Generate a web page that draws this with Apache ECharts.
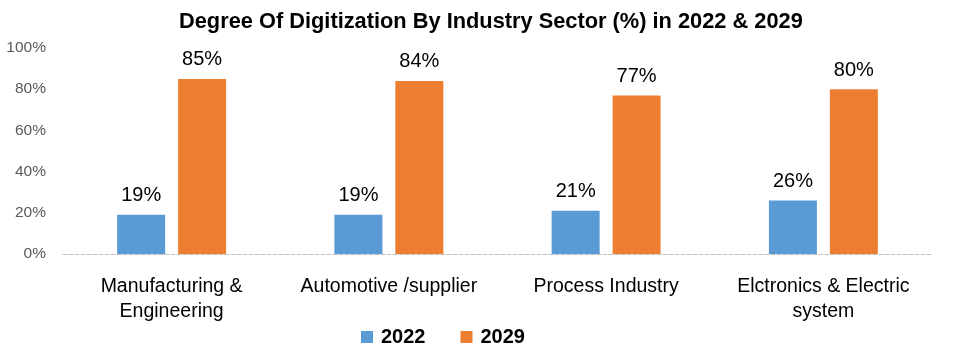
<!DOCTYPE html>
<html><head><meta charset="utf-8">
<script src="https://cdn.jsdelivr.net/npm/echarts@6/dist/echarts.min.js"></script>
<style>html,body{margin:0;padding:0;background:#fff}#c{width:955px;height:355px}</style>
</head><body><div id="c"></div>
<script>
const categories = ["Manufacturing &\nEngineering", "Automotive /supplier", "Process Industry", "Elctronics & Electric\nsystem"];
const seriesNames = ["2022", "2029"];
const values2022 = [19, 19, 21, 26];
const values2029 = [85, 84, 77, 80];
const yTicks = [0, 20, 40, 60, 80, 100];

const chart = echarts.init(document.getElementById('c'));
const font = 'Liberation Sans';
chart.setOption({
  animation: false,
  title: {
    text: 'Degree Of Digitization By Industry Sector (%) in 2022 & 2029',
    left: 174, top: 6,
    textStyle: { fontFamily: font, fontWeight: 'bold', fontSize: 21.8, color: '#000' }
  },
  legend: {
    bottom: 3, left: 356,
    itemWidth: 12, itemHeight: 12, itemGap: 35,
    icon: 'rect',
    textStyle: { fontFamily: font, fontWeight: 'bold', fontSize: 20, color: '#000', padding: [0, 0, 0, 3] },
    data: seriesNames
  },
  grid: { left: 63, right: 23, top: 48, bottom: 101 },
  xAxis: {
    type: 'category', data: categories,
    axisLine: { lineStyle: { color: '#bfbfbf', type: 'dashed' } },
    axisTick: { show: false },
    axisLabel: { fontFamily: font, fontSize: 19.5, color: '#000', margin: 20, lineHeight: 25, interval: 0 }
  },
  yAxis: {
    type: 'value', min: yTicks[0], max: yTicks[yTicks.length - 1], interval: 20,
    splitLine: { show: false },
    axisLine: { show: false }, axisTick: { show: false },
    axisLabel: { fontFamily: font, fontSize: 15.5, color: '#595959', margin: 17, formatter: v => v + '%' }
  },
  series: [
    { name: seriesNames[0], type: 'bar', data: values2022, barWidth: 48, barGap: '27%',
      itemStyle: { color: '#5b9bd5' },
      label: { show: true, position: 'top', distance: 9, formatter: p => p.value + '%', fontFamily: font, fontSize: 20, color: '#000' } },
    { name: seriesNames[1], type: 'bar', data: values2029, barWidth: 48,
      itemStyle: { color: '#ed7d31' },
      label: { show: true, position: 'top', distance: 9, formatter: p => p.value + '%', fontFamily: font, fontSize: 20, color: '#000' } }
  ]
});
</script></body></html>
